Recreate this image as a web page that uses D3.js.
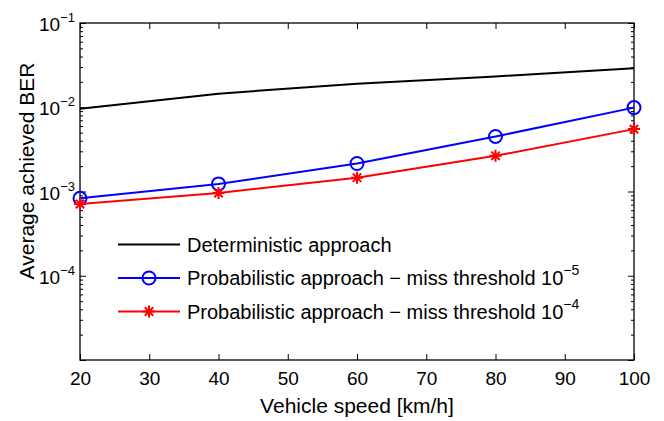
<!DOCTYPE html>
<html>
<head>
<meta charset="utf-8">
<script src="https://cdn.jsdelivr.net/npm/d3@7"></script>
<style>
  body { margin: 0; background: #fff; }
  svg { font-family: "Liberation Sans", Arial, sans-serif; }
</style>
</head>
<body>
<svg width="664" height="421"></svg>
<script>
// data
var speeds = [20, 40, 60, 80, 100];
var deterministic = [0.0096, 0.0145, 0.019, 0.0232, 0.029];
var probMiss5 = [8.3e-4, 1.23e-3, 2.15e-3, 4.5e-3, 9.9e-3];
var probMiss4 = [7.1e-4, 9.6e-4, 1.46e-3, 2.65e-3, 5.5e-3];
var xTicks = [20, 30, 40, 50, 60, 70, 80, 90, 100];
var yDecades = [1e-5, 1e-4, 1e-3, 1e-2, 1e-1];
var yLabelled = [1e-4, 1e-3, 1e-2, 1e-1];
var legendLabels = [
  {text: "Deterministic approach", sup: null},
  {text: "Probabilistic approach \u2212 miss threshold 10", sup: "\u22125"},
  {text: "Probabilistic approach \u2212 miss threshold 10", sup: "\u22124"}
];

var svg = d3.select("svg"),
    margin = {top: 23, right: 30, bottom: 61, left: 80},
    width = 664 - margin.left - margin.right,
    height = 421 - margin.top - margin.bottom,
    g = svg.append("g").attr("transform", "translate(" + margin.left + "," + margin.top + ")");

var x = d3.scaleLinear().domain([20, 100]).range([0, width]),
    y = d3.scaleLog().domain([1e-5, 1e-1]).range([height, 0]);

var minor = [];
yDecades.slice(0, -1).forEach(function(d) {
  for (var k = 2; k <= 9; k++) minor.push(d * k);
});

// frame
g.append("rect")
    .attr("width", width)
    .attr("height", height)
    .attr("fill", "none")
    .attr("stroke", "#000")
    .attr("stroke-width", 1.3);

// x ticks bottom + top
var xb = g.append("g")
    .attr("transform", "translate(0," + height + ")")
    .call(d3.axisBottom(x).tickValues(xTicks).tickSize(-6).tickPadding(12));
g.append("g")
    .call(d3.axisTop(x).tickValues(xTicks).tickSize(-6).tickFormat(""));

// y ticks left + right, major and minor
g.append("g")
    .call(d3.axisLeft(y).tickValues(yDecades).tickSize(-6).tickFormat(""));
var yl = g.append("g")
    .call(d3.axisLeft(y).tickValues(yLabelled).tickSize(0).tickFormat(""));
g.append("g").call(d3.axisLeft(y).tickValues(minor).tickSize(-3).tickFormat(""));
g.append("g").attr("transform", "translate(" + width + ",0)")
    .call(d3.axisRight(y).tickValues(yDecades).tickSize(-6).tickFormat(""));
g.append("g").attr("transform", "translate(" + width + ",0)")
    .call(d3.axisRight(y).tickValues(minor).tickSize(-3).tickFormat(""));

g.selectAll(".domain").remove();
g.selectAll(".tick line").attr("stroke", "#000").attr("stroke-width", 1);

xb.selectAll(".tick text")
    .style("font-size", "19px")
    .attr("fill", "#000");

yl.selectAll(".tick").each(function(d) {
  var t = d3.select(this).append("text")
      .attr("x", -5)
      .attr("y", 7.5)
      .attr("text-anchor", "end")
      .attr("fill", "#000")
      .style("font-size", "19px");
  t.append("tspan").text("10");
  t.append("tspan")
      .attr("dy", -9)
      .style("font-size", "13px")
      .text("\u2212" + Math.round(-Math.log10(d)));
});

// axis labels
svg.append("text")
    .attr("x", margin.left + width / 2)
    .attr("y", 413)
    .attr("text-anchor", "middle")
    .style("font-size", "21px")
    .text("Vehicle speed [km/h]");

svg.append("text")
    .attr("transform", "translate(33.5,171) rotate(-90)")
    .attr("text-anchor", "middle")
    .style("font-size", "21px")
    .text("Average achieved BER");

// series
var series = [
  {values: deterministic, color: "#000", marker: null},
  {values: probMiss5, color: "#0000ff", marker: "circle"},
  {values: probMiss4, color: "#ff0000", marker: "star"}
];

var line = d3.line()
    .x(function(d, i) { return x(speeds[i]); })
    .y(function(d) { return y(d); });

function drawMarker(sel, type, color) {
  if (type === "circle") {
    sel.append("circle")
        .attr("r", 6.5)
        .attr("fill", "none")
        .attr("stroke", color)
        .attr("stroke-width", 2);
  } else if (type === "star") {
    var s = 6;
    var p = "M" + (-s) + ",0L" + s + ",0M0," + (-s) + "L0," + s +
            "M" + (-s * 0.7) + "," + (-s * 0.7) + "L" + (s * 0.7) + "," + (s * 0.7) +
            "M" + (-s * 0.7) + "," + (s * 0.7) + "L" + (s * 0.7) + "," + (-s * 0.7);
    sel.append("path")
        .attr("d", p)
        .attr("stroke", color)
        .attr("stroke-width", 2);
  }
}

series.forEach(function(s) {
  g.append("path")
      .attr("d", line(s.values))
      .attr("fill", "none")
      .attr("stroke", s.color)
      .attr("stroke-width", 2);
  if (s.marker) {
    s.values.forEach(function(v, i) {
      var m = g.append("g").attr("transform", "translate(" + x(speeds[i]) + "," + y(v) + ")");
      drawMarker(m, s.marker, s.color);
    });
  }
});

// legend
var legend = svg.append("g");
var rowY = [244.5, 278, 311.5];
series.forEach(function(s, i) {
  var row = legend.append("g").attr("transform", "translate(0," + rowY[i] + ")");
  row.append("line")
      .attr("x1", 118).attr("x2", 180)
      .attr("stroke", s.color)
      .attr("stroke-width", 2);
  if (s.marker) {
    var m = row.append("g").attr("transform", "translate(149,0)");
    drawMarker(m, s.marker, s.color);
  }
  var t = row.append("text")
      .attr("x", 187)
      .attr("y", 7)
      .style("font-size", "20px")
      .attr("fill", "#000");
  t.append("tspan").text(legendLabels[i].text);
  if (legendLabels[i].sup) {
    t.append("tspan")
        .attr("dy", -10)
        .style("font-size", "14px")
        .text(legendLabels[i].sup);
  }
});
</script>
</body>
</html>
